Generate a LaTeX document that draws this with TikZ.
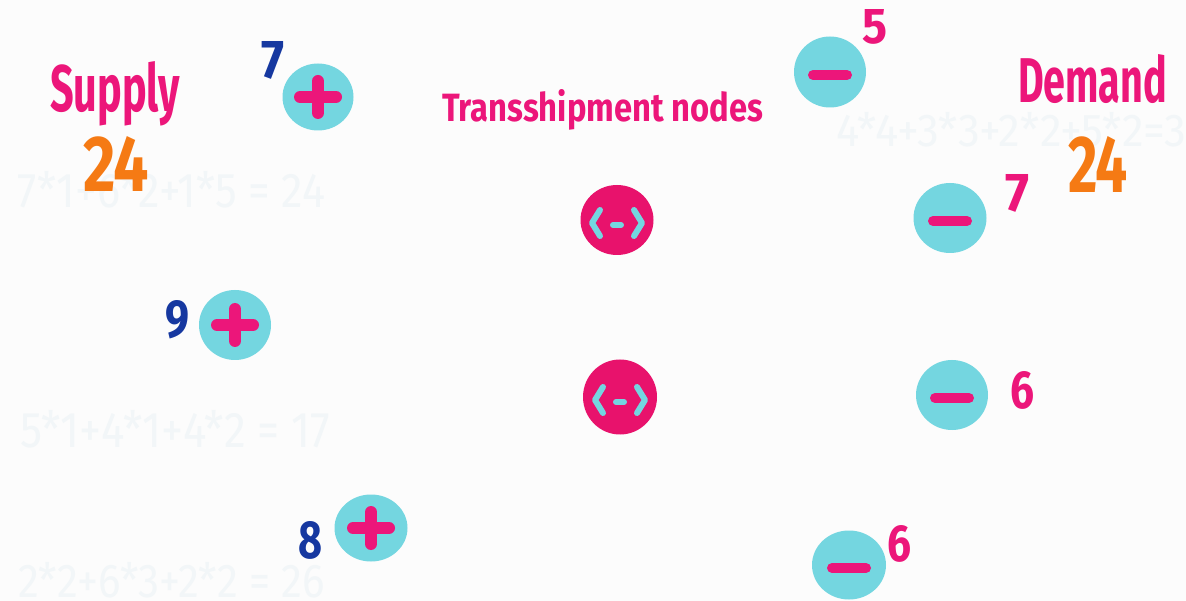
\documentclass[tikz,border=0pt]{standalone}
\usepackage{fontspec}
\setmainfont{Fira Sans}
\usepackage{graphicx}
\usetikzlibrary{shapes.geometric}

\definecolor{paper}{RGB}{252,252,252}
\definecolor{hot}{RGB}{236,22,122}
\definecolor{hub}{RGB}{232,18,108}
\definecolor{aqua}{RGB}{116,214,224}
\definecolor{navy}{RGB}{22,56,160}
\definecolor{tang}{RGB}{245,122,20}
\definecolor{ghost}{RGB}{242,246,248}

% squeeze a text into a box of given width and height (in pt)
\newcommand{\fitto}[3]{\resizebox{#1pt}{#2pt}{#3}}

\tikzset{
  lbl/.style={inner sep=0pt, outer sep=0pt, anchor=base west},
  disc/.style={ellipse, inner sep=0pt, draw=none, fill=aqua},
  hubdisc/.style={ellipse, inner sep=0pt, draw=none, fill=hub},
  sign/.style={draw=hot, line width=12pt, line cap=round},
  bar/.style={draw=hot, line width=10pt, line cap=round},
  chev/.style={draw=aqua, line width=6pt, line cap=round, line join=round},
}

\begin{document}
\begin{tikzpicture}[x=1pt, y=-1pt]
  \fill[paper] (0,0) rectangle (1186,601);
  \clip (0,0) rectangle (1186,601);

  % faint cost sums behind everything
  \node[lbl, text=ghost] (sumA) at (18,208) {\fitto{307}{36}{7*1+6*2+1*5 = 24}};
  \node[lbl, text=ghost] (sumB) at (20,447) {\fitto{310}{37}{5*1+4*1+4*2 = 17}};
  \node[lbl, text=ghost] (sumC) at (18,597) {\fitto{307}{35}{2*2+6*3+2*2 = 26}};
  \node[lbl, text=ghost] (sumD) at (836,147) {\fitto{372}{34}{4*4+3*3+2*2+5*2=39}};

  % headings
  \node[lbl, text=hot]  (supply) at (50,112)   {\bfseries\fitto{130}{50}{Supply}};
  \node[lbl, text=tang] (stot)   at (83,192)   {\bfseries\fitto{66}{55}{24}};
  \node[lbl, text=hot]  (demand) at (1018,103) {\bfseries\fitto{149}{48}{Demand}};
  \node[lbl, text=tang] (dtot)   at (1068,193) {\bfseries\fitto{60}{56}{24}};
  \node[lbl, text=hot]  (trans)  at (442,122)  {\bfseries\fitto{321}{32}{Transshipment nodes}};

  % supply nodes
  \node[disc, minimum width=71pt, minimum height=67pt] (p1) at (318,97)  {};
  \node[disc, minimum width=72pt, minimum height=70pt] (p2) at (235,325) {};
  \node[disc, minimum width=73pt, minimum height=67pt] (p3) at (371,528) {};
  \foreach \n in {p1,p2,p3}{
    \draw[sign] ([xshift=-18pt]\n.center) -- ([xshift=18pt]\n.center);
    \draw[sign] ([yshift=-16pt]\n.center) -- ([yshift=16pt]\n.center);
  }
  \node[lbl, text=navy] (p1v) at (261,79)  {\bfseries\fitto{23}{37}{7}};
  \node[lbl, text=navy] (p2v) at (165,338) {\bfseries\fitto{24}{37}{9}};
  \node[lbl, text=navy] (p3v) at (298,558) {\bfseries\fitto{24}{37}{8}};

  % demand nodes
  \node[disc, minimum width=72pt, minimum height=71pt] (m1) at (830,72)  {};
  \node[disc, minimum width=73pt, minimum height=70pt] (m2) at (950,218) {};
  \node[disc, minimum width=72pt, minimum height=70pt] (m3) at (952,395) {};
  \node[disc, minimum width=74pt, minimum height=69pt] (m4) at (849,565) {};
  \foreach \n in {m1,m2,m3,m4}{
    \draw[bar] ([xshift=-17pt,yshift=-3pt]\n.center) -- ([xshift=17pt,yshift=-3pt]\n.center);
  }
  \node[lbl, text=hot] (m1v) at (862,44)   {\bfseries\fitto{25}{34}{5}};
  \node[lbl, text=hot] (m2v) at (1005,212) {\bfseries\fitto{24}{37}{7}};
  \node[lbl, text=hot] (m3v) at (1010,409) {\bfseries\fitto{24}{37}{6}};
  \node[lbl, text=hot] (m4v) at (887,561)  {\bfseries\fitto{24}{36}{6}};

  % transshipment nodes
  \node[hubdisc, minimum width=73pt, minimum height=70pt] (t1) at (617,220) {};
  \node[hubdisc, minimum width=74pt, minimum height=75pt] (t2) at (620,397) {};
  \foreach \n in {t1,t2}{
    \draw[chev] ([xshift=-17pt,yshift=10pt]\n.center) -- ([xshift=-25pt,yshift=-3pt]\n.center)
                -- ([xshift=-17pt,yshift=-16pt]\n.center);
    \draw[chev] ([xshift=17pt,yshift=10pt]\n.center) -- ([xshift=25pt,yshift=-3pt]\n.center)
                -- ([xshift=17pt,yshift=-16pt]\n.center);
    \draw[chev] ([xshift=-4pt,yshift=-5pt]\n.center) -- ([xshift=4pt,yshift=-5pt]\n.center);
  }
\end{tikzpicture}
\end{document}
